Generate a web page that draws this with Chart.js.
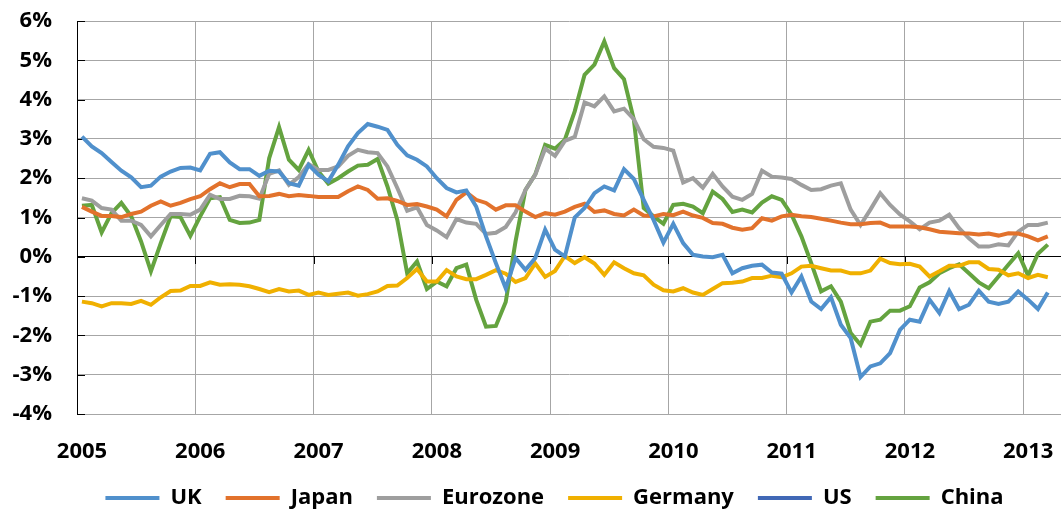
<!DOCTYPE html>
<html><head><meta charset="utf-8">
<script src="https://cdn.jsdelivr.net/npm/chart.js@4"></script>
<style>html,body{margin:0;padding:0;background:#fff}#wrap{width:1061px;height:512px;position:relative}</style>
</head><body><div id="wrap"><canvas id="c"></canvas></div>
<script>
// Monthly series, Jan 2005 .. Mar 2013
const startYear = 2005;
const yearTicks = [2005, 2006, 2007, 2008, 2009, 2010, 2011, 2012, 2013];
const yTicks = [-4, -3, -2, -1, 0, 1, 2, 3, 4, 5, 6];
const seriesNames = ['UK', 'Japan', 'Eurozone', 'Germany', 'US', 'China'];

const ukValues = [3.06,2.81,2.64,2.41,2.19,2.02,1.77,1.81,2.04,2.17,2.26,2.27,2.2,2.62,2.66,2.4,2.23,2.23,2.06,2.19,2.17,1.87,1.81,2.34,2.09,1.92,2.34,2.81,3.15,3.38,3.31,3.23,2.85,2.58,2.47,2.30,2.0,1.75,1.64,1.69,1.28,0.52,-0.16,-0.8,-0.03,-0.33,-0.03,0.69,0.18,0.01,1.0,1.24,1.62,1.79,1.69,2.23,1.98,1.45,0.94,0.36,0.84,0.35,0.05,0.01,-0.01,0.05,-0.42,-0.29,-0.23,-0.2,-0.4,-0.43,-0.91,-0.5,-1.14,-1.33,-1.03,-1.73,-2.07,-3.06,-2.79,-2.71,-2.45,-1.86,-1.6,-1.65,-1.09,-1.43,-0.87,-1.33,-1.22,-0.86,-1.14,-1.2,-1.14,-0.88,-1.09,-1.33,-0.91];
const japanValues = [1.27,1.15,1.04,1.04,1.01,1.09,1.15,1.3,1.41,1.3,1.37,1.47,1.54,1.72,1.87,1.77,1.85,1.85,1.54,1.55,1.6,1.54,1.57,1.55,1.52,1.52,1.52,1.67,1.79,1.7,1.48,1.49,1.42,1.32,1.34,1.28,1.2,1.03,1.45,1.64,1.45,1.37,1.2,1.31,1.31,1.15,1.01,1.11,1.07,1.15,1.27,1.35,1.14,1.18,1.09,1.05,1.2,1.05,1.03,1.09,1.06,1.15,1.05,0.99,0.86,0.84,0.74,0.69,0.73,0.98,0.92,1.03,1.07,1.03,1.01,0.97,0.92,0.87,0.83,0.83,0.86,0.87,0.77,0.77,0.77,0.75,0.7,0.64,0.62,0.6,0.59,0.57,0.59,0.54,0.6,0.59,0.52,0.42,0.52];
const eurozoneValues = [1.49,1.43,1.24,1.2,0.92,0.92,0.81,0.52,0.81,1.09,1.09,1.07,1.2,1.58,1.47,1.47,1.55,1.54,1.48,2.11,2.2,1.83,2.03,2.36,2.21,2.21,2.3,2.57,2.72,2.66,2.64,2.3,1.75,1.17,1.26,0.81,0.67,0.5,0.96,0.87,0.84,0.58,0.61,0.76,1.13,1.7,2.09,2.75,2.57,2.95,3.05,3.93,3.83,4.08,3.7,3.77,3.5,2.99,2.8,2.77,2.7,1.89,2.0,1.76,2.11,1.79,1.53,1.45,1.6,2.19,2.04,2.02,1.98,1.83,1.7,1.72,1.81,1.87,1.2,0.81,1.2,1.62,1.32,1.08,0.9,0.7,0.87,0.92,1.07,0.73,0.47,0.26,0.26,0.32,0.29,0.64,0.81,0.81,0.87];
const germanyValues = [-1.14,-1.18,-1.26,-1.18,-1.18,-1.2,-1.12,-1.22,-1.03,-0.87,-0.86,-0.74,-0.74,-0.65,-0.71,-0.7,-0.71,-0.75,-0.82,-0.9,-0.82,-0.88,-0.86,-0.97,-0.91,-0.97,-0.94,-0.91,-0.99,-0.95,-0.88,-0.74,-0.73,-0.54,-0.31,-0.63,-0.63,-0.34,-0.5,-0.57,-0.57,-0.46,-0.34,-0.43,-0.64,-0.54,-0.17,-0.51,-0.36,0.02,-0.16,-0.01,-0.17,-0.46,-0.14,-0.29,-0.42,-0.47,-0.71,-0.85,-0.88,-0.8,-0.91,-0.97,-0.82,-0.67,-0.66,-0.63,-0.54,-0.54,-0.48,-0.52,-0.42,-0.25,-0.23,-0.29,-0.35,-0.35,-0.42,-0.42,-0.35,-0.05,-0.16,-0.19,-0.18,-0.25,-0.5,-0.37,-0.23,-0.23,-0.14,-0.14,-0.31,-0.33,-0.47,-0.42,-0.54,-0.46,-0.52];
const usValues = []; // US line is not visible in the reference (hidden); legend entry only
const chinaValues = [1.3,1.32,0.62,1.11,1.37,1.03,0.39,-0.37,0.35,1.03,1.01,0.53,1.03,1.49,1.52,0.94,0.86,0.87,0.94,2.51,3.3,2.47,2.21,2.72,2.17,1.86,2.0,2.17,2.32,2.34,2.49,1.79,0.94,-0.42,-0.12,-0.82,-0.63,-0.75,-0.29,-0.2,-1.09,-1.78,-1.76,-1.15,0.4,1.7,2.1,2.85,2.75,2.98,3.7,4.63,4.89,5.48,4.8,4.52,3.49,1.24,1.03,0.84,1.32,1.35,1.28,1.11,1.66,1.47,1.14,1.2,1.13,1.38,1.54,1.45,1.07,0.52,-0.16,-0.88,-0.75,-1.14,-1.94,-2.24,-1.65,-1.6,-1.37,-1.37,-1.26,-0.78,-0.65,-0.42,-0.29,-0.19,-0.42,-0.65,-0.8,-0.5,-0.2,0.09,-0.48,0.08,0.31];

const seriesValues = [ukValues, japanValues, eurozoneValues, germanyValues, usValues, chinaValues];
const seriesColors = ['#5090cc', '#e2722c', '#9e9e9e', '#f0b000', '#4168b6', '#64a33f'];

// month midpoints on a year axis
const toPoints = vals => vals.map((v, i) => ({ x: startYear + (i + 0.5) / 12, y: v }));

const FONT = '"Open Sans", "Liberation Sans", sans-serif';

const innerTicks = {
  id: 'innerTicks',
  beforeDatasetsDraw(chart) {
    const { ctx, scales: { x, y } } = chart;
    ctx.save();
    ctx.strokeStyle = '#000';
    ctx.lineWidth = 1;
    ctx.beginPath();
    yTicks.forEach(v => {
      const py = Math.round(y.getPixelForValue(v)) + 0.5;
      ctx.moveTo(x.left, py); ctx.lineTo(x.left + 8, py);
    });
    const y0 = Math.round(y.getPixelForValue(0));
    yearTicks.forEach(v => {
      const px = Math.round(x.getPixelForValue(v)) + 0.5;
      ctx.moveTo(px, y0); ctx.lineTo(px, y0 + 7);
    });
    ctx.stroke();
    ctx.restore();
  }
};

const legendShift = {
  id: 'legendShift',
  afterLayout(chart) {
    if (chart.legend) { chart.legend.left += 24; chart.legend.right += 24; }
  }
};

new Chart(document.getElementById('c'), {
  type: 'line',
  data: {
    datasets: seriesNames.map((name, k) => ({
      label: name,
      data: toPoints(seriesValues[k]),
      borderColor: seriesColors[k],
      backgroundColor: seriesColors[k],
      borderWidth: 4,
      pointRadius: 0,
      tension: 0,
      fill: false
    }))
  },
  options: {
    responsive: true,
    maintainAspectRatio: false,
    animation: false,
    layout: { padding: { left: 0, right: 0, top: 21, bottom: -7 } },
    plugins: {
      tooltip: { enabled: false },
      legend: {
        position: 'bottom',
        labels: {
          usePointStyle: true,
          pointStyle: 'line',
          pointStyleWidth: 54,
          boxHeight: 22,
          padding: 24,
          color: '#000',
          font: { family: FONT, size: 22, weight: 'bold' }
        }
      }
    },
    scales: {
      x: {
        type: 'linear',
        min: 2005,
        max: 2013.32,
        afterFit: s => { s.height = 49; },
        afterBuildTicks: s => { s.ticks = yearTicks.map(v => ({ value: v })); },
        ticks: {
          autoSkip: false,
          includeBounds: false,
          padding: 0,
          labelOffset: 5,
          color: '#000',
          font: { family: FONT, size: 22, weight: 'bold' },
          callback: v => String(v)
        },
        grid: {
          color: '#a6a6a6',
          lineWidth: 1,
          drawTicks: true,
          tickLength: 25,
          tickColor: 'rgba(0,0,0,0)'
        },
        border: { color: '#a6a6a6', width: 1 }
      },
      y: {
        min: -4,
        max: 6,
        afterFit: s => { s.width = 77; },
        afterBuildTicks: s => { s.ticks = yTicks.map(v => ({ value: v })); },
        ticks: {
          padding: 0,
          color: '#000',
          font: { family: FONT, size: 22, weight: 'bold' },
          callback: v => v + '%'
        },
        grid: {
          color: c => (c.tick && c.tick.value === 0 ? '#000' : '#a6a6a6'),
          lineWidth: 1,
          drawTicks: true,
          tickLength: 25,
          tickColor: 'rgba(0,0,0,0)'
        },
        border: { color: '#000', width: 1 }
      }
    }
  },
  plugins: [innerTicks, legendShift]
});
</script>
</body></html>
